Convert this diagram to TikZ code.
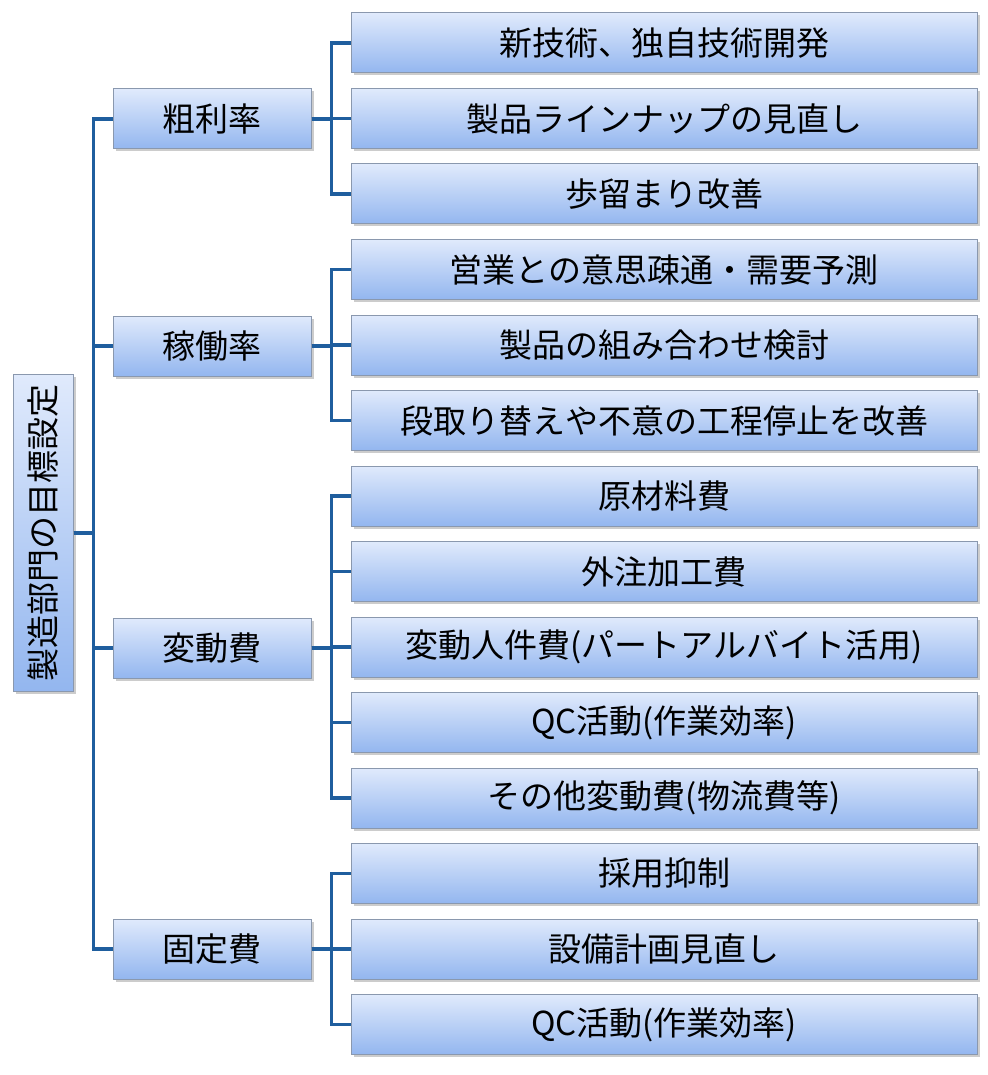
\documentclass[tikz,border=0pt]{standalone}
\usepackage{fontspec}
\setmainfont{Noto Sans CJK JP}
\usetikzlibrary{shadows}
\definecolor{linkblue}{HTML}{1F5E9E}
\definecolor{boxtop}{HTML}{E0EAFC}
\definecolor{boxbot}{HTML}{93B6EF}
\definecolor{boxline}{HTML}{8A98AE}
\begin{document}
\begin{tikzpicture}[x=1pt, y=-1pt, box/.style={draw=boxline, line width=1pt,
  top color=boxtop, bottom color=boxbot, inner sep=0pt, minimum height=60pt,
  drop shadow={shadow xshift=2.5pt, shadow yshift=-2.5pt, opacity=.4},
  font=\fontsize{33}{39}\selectfont}, goal/.style={box, minimum width=198pt},
  task/.style={box, minimum width=626pt}, link/.style={draw=linkblue, line
  width=3.5pt} ]

\useasboundingbox (0,0) rectangle (987,1075);

% Root
\node[box, rotate=90, minimum width=317pt] (root) at (43,533) {製造部門の目標設定};

% Goals
\foreach \g/\y/\txt in {g1/119/粗利率, g2/346/稼働率, g3/648/変動費, g4/949/固定費} {
  \node[goal] (\g) at (212,\y) {\txt}; }

% Tasks
\foreach \i/\txt in {0/新技術、独自技術開発, 1/製品ラインナップの見直し, 2/歩留まり改善,
  3/営業との意思疎通・需要予測, 4/製品の組み合わせ検討, 5/段取り替えや不意の工程停止を改善,
  6/原材料費, 7/外注加工費, 8/{変動人件費(パートアルバイト活用)}, 9/{QC活動(作業効率)},
  10/{その他変動費(物流費等)}, 11/採用抑制, 12/設備計画見直し, 13/{QC活動(作業効率)}} {
  \node[task] (t\i) at (664,{43+75.5*\i}) {\txt}; }

% Connections root -> goals
\foreach \g in {g1,g2,g3,g4} \draw[link] (root.south) -- ++(20,0) |- (\g.west);

% goals -> tasks
\foreach \g/\list in {g1/{0,1,2}, g2/{3,4,5}, g3/{6,7,8,9,10}, g4/{11,12,13}}
  \foreach \t in \list \draw[link] (\g.east) -- ++(20,0) |- (t\t.west);

\end{tikzpicture}
\end{document}
